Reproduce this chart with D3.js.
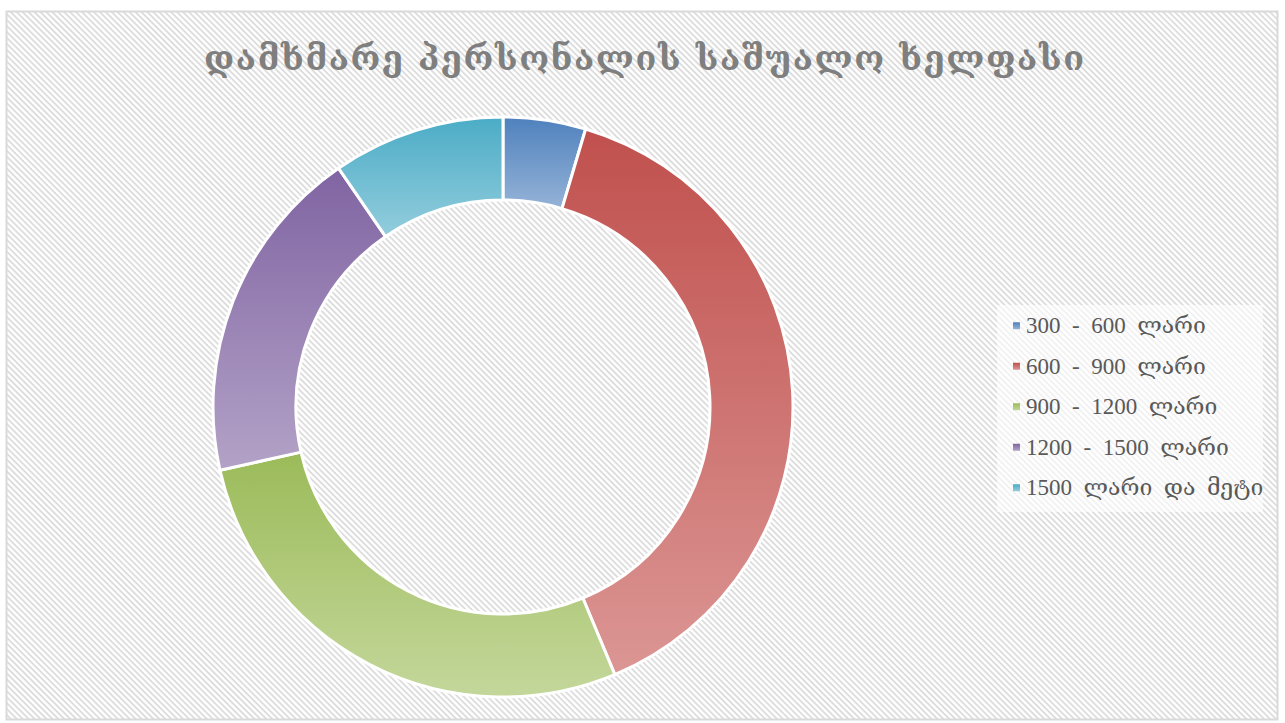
<!DOCTYPE html>
<html>
<head>
<meta charset="utf-8">
<script src="https://cdn.jsdelivr.net/npm/d3@7"></script>
<style>
  body { margin: 0; background: #fff; }
  svg { display: block; }
</style>
</head>
<body>
<div id="chart"></div>
<script>
// chart data
const title = "დამხმარე პერსონალის საშუალო ხელფასი";
const categories = ["300  -  600  ლარი", "600  -  900  ლარი", "900  -  1200  ლარი", "1200  -  1500  ლარი", "1500  ლარი  და  მეტი"];
const values = [4.6, 39.1, 27.8, 18.9, 9.6];
const colorsTop = ["#4f81bd", "#c0504d", "#9bbb59", "#8064a2", "#4bacc6"];
const colorsBottom = ["#95b3d7", "#db9694", "#c4d79b", "#b3a2c7", "#93cddd"];

const config = {
    width: 1285,
    height: 723,
    cx: 503,
    cy: 407,
    outerR: 290,
    innerR: 207
};

const svg = d3.select('#chart').append('svg')
    .attr('width', config.width)
    .attr('height', config.height);

const defs = svg.append('defs');

// diagonal stripe background (top-left to bottom-right)
const pattern = defs.append('pattern')
    .attr('id', 'stripes')
    .attr('patternUnits', 'userSpaceOnUse')
    .attr('width', 4.2)
    .attr('height', 4.2)
    .attr('patternTransform', 'rotate(45)');
pattern.append('rect').attr('width', 4.2).attr('height', 4.2).attr('fill', '#ffffff');
pattern.append('rect').attr('width', 4.2).attr('height', 1.8).attr('fill', '#dcdcdc');

svg.append('rect')
    .attr('x', 6.5)
    .attr('y', 11.5)
    .attr('width', 1271)
    .attr('height', 708)
    .attr('fill', 'url(#stripes)')
    .attr('stroke', '#d9d9d9')
    .attr('stroke-width', 2);

// gradients, one for each slice
categories.forEach((c, i) => {
    const g = defs.append('linearGradient')
        .attr('id', `grad-${i}`)
        .attr('x1', 0).attr('y1', 0)
        .attr('x2', 0).attr('y2', 1);
    g.append('stop').attr('offset', '0%').attr('stop-color', colorsTop[i]);
    g.append('stop').attr('offset', '100%').attr('stop-color', colorsBottom[i]);
});

// title
svg.append('text')
    .attr('x', 644)
    .attr('y', 70)
    .attr('text-anchor', 'middle')
    .attr('font-family', 'DejaVu Serif, serif')
    .attr('font-weight', 'bold')
    .attr('font-size', 34)
    .attr('fill', '#7f7f7f')
    .attr('textLength', 880)
    .attr('lengthAdjust', 'spacing')
    .text(title);

// donut
const pie = d3.pie().sort(null).value(d => d);
const arc = d3.arc().innerRadius(config.innerR).outerRadius(config.outerR);

const chart = svg.append('g')
    .attr('transform', `translate(${config.cx},${config.cy})`);

chart.selectAll('.slice')
    .data(pie(values))
    .join('path')
    .attr('class', 'slice')
    .attr('d', arc)
    .attr('fill', (d, i) => `url(#grad-${i})`)
    .attr('stroke', '#ffffff')
    .attr('stroke-width', 3)
    .attr('stroke-linejoin', 'round');

// legend
const legendX = 997, legendY = 305, rowH = 40.5;
svg.append('rect')
    .attr('x', legendX)
    .attr('y', legendY)
    .attr('width', 266)
    .attr('height', 207)
    .attr('fill', '#ffffff')
    .attr('opacity', 0.6);

const rowScale = d3.scaleBand()
    .domain(categories)
    .range([legendY, legendY + rowH * categories.length]);

const legend = svg.append('g').selectAll('g')
    .data(categories)
    .join('g')
    .attr('transform', d => `translate(${legendX + 16},${rowScale(d) + rowScale.bandwidth() / 2})`);

legend.append('rect')
    .attr('x', 0)
    .attr('y', -3)
    .attr('width', 7)
    .attr('height', 7)
    .attr('fill', (d, i) => `url(#grad-${i})`);

legend.append('text')
    .attr('x', 13)
    .attr('y', 8)
    .attr('font-family', 'Liberation Serif, DejaVu Serif, serif')
    .attr('font-size', 23)
    .attr('fill', '#595959')
    .style('white-space', 'pre')
    .text(d => d);
</script>
</body>
</html>
